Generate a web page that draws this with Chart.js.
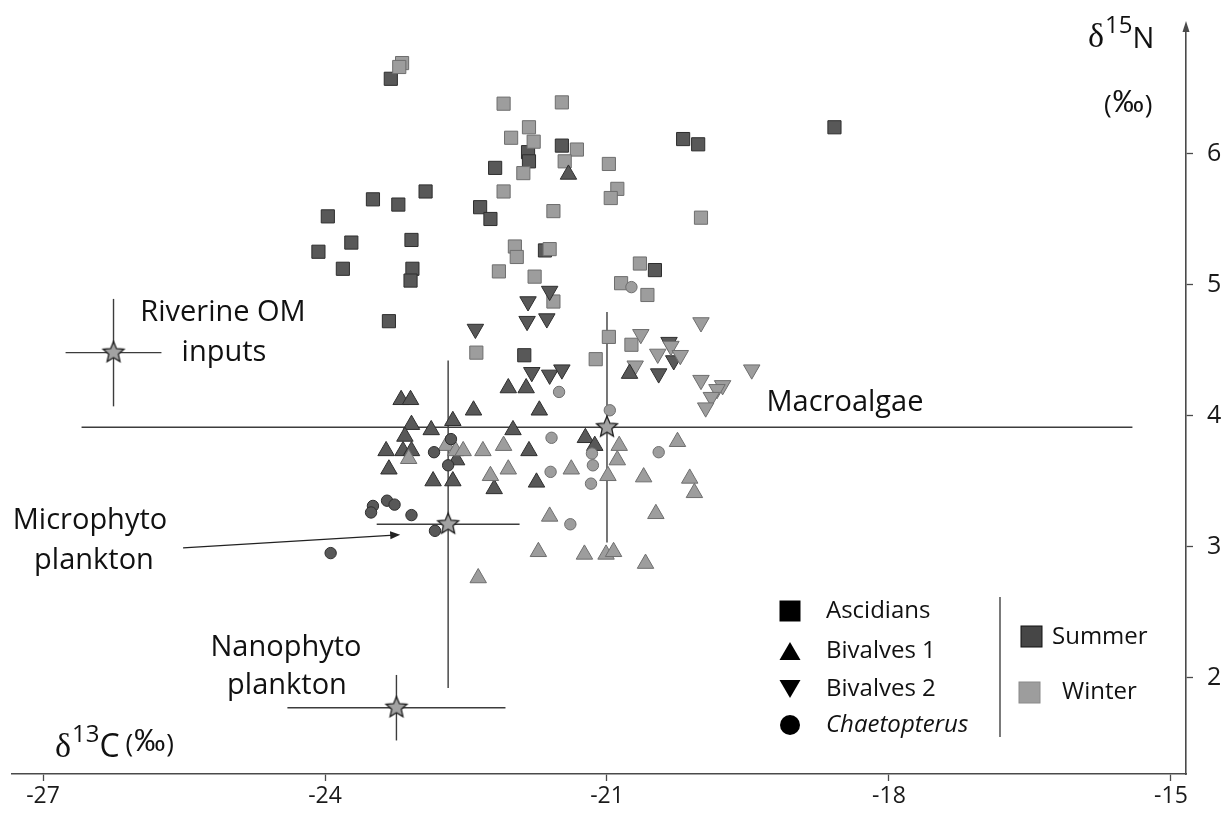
<!DOCTYPE html>
<html>
<head>
<meta charset="utf-8">
<title>Isotope biplot</title>
<script src="https://cdn.jsdelivr.net/npm/chart.js@4.4.1/dist/chart.umd.min.js"></script>
<style>
  html, body { margin: 0; padding: 0; background: #fff; }
  #wrap { width: 1231px; height: 814px; }
</style>
</head>
<body>
<div id="wrap"><canvas id="isoChart" width="1231" height="814"></canvas></div>
<script>
// d13C (x) / d15N (y) values, as [x, y] pairs
const ascidiansSummer = [
    [-23.30, 6.57], [-21.48, 6.06], [-21.84, 6.01], [-21.83, 5.94], [-22.19, 5.89],
    [-22.93, 5.71], [-23.49, 5.65], [-23.22, 5.61], [-23.97, 5.52], [-22.35, 5.59],
    [-22.24, 5.50], [-24.07, 5.25], [-23.72, 5.32], [-23.08, 5.34], [-23.81, 5.12],
    [-23.07, 5.12], [-23.09, 5.03], [-21.66, 5.26], [-23.32, 4.72], [-21.88, 4.46],
    [-20.49, 5.11], [-20.19, 6.11], [-20.03, 6.07], [-18.58, 6.20]
];
const ascidiansWinter = [
    [-23.18, 6.69], [-23.21, 6.66], [-22.10, 6.38], [-21.48, 6.39], [-21.83, 6.20],
    [-22.02, 6.12], [-21.78, 6.09], [-21.32, 6.03], [-21.45, 5.94], [-21.89, 5.85],
    [-20.98, 5.92], [-22.10, 5.71], [-20.89, 5.73], [-20.96, 5.66], [-21.57, 5.56],
    [-21.98, 5.29], [-21.96, 5.21], [-21.61, 5.27], [-22.15, 5.10], [-21.77, 5.06],
    [-21.57, 4.87], [-20.65, 5.16], [-20.85, 5.01], [-20.57, 4.92], [-20.00, 5.51],
    [-22.39, 4.48], [-20.98, 4.60], [-20.74, 4.54], [-21.12, 4.43]
];
const bivalves1Summer = [
    [-21.41, 5.84], [-22.05, 4.21], [-21.86, 4.21], [-20.76, 4.32], [-23.19, 4.12],
    [-23.09, 4.12], [-22.42, 4.04], [-21.72, 4.04], [-23.08, 3.93], [-22.87, 3.89],
    [-22.64, 3.96], [-22.00, 3.89], [-23.15, 3.84], [-21.23, 3.83], [-21.13, 3.77],
    [-23.35, 3.73], [-23.17, 3.73], [-23.08, 3.73], [-22.60, 3.66], [-21.83, 3.73],
    [-23.32, 3.59], [-22.85, 3.50], [-22.64, 3.50], [-22.20, 3.44], [-21.75, 3.49]
];
const bivalves1Winter = [
    [-23.11, 3.67], [-22.71, 3.77], [-22.61, 3.73], [-22.53, 3.73], [-22.32, 3.73],
    [-22.10, 3.77], [-22.05, 3.59], [-22.24, 3.54], [-21.38, 3.59], [-20.87, 3.77],
    [-20.89, 3.66], [-20.99, 3.54], [-20.25, 3.80], [-20.61, 3.53], [-20.12, 3.52],
    [-20.07, 3.41], [-21.61, 3.23], [-20.48, 3.25], [-21.73, 2.96], [-21.24, 2.94],
    [-21.01, 2.94], [-20.93, 2.96], [-20.59, 2.87], [-22.37, 2.76]
];
const bivalves2Summer = [
    [-21.61, 4.95], [-21.84, 4.87], [-21.85, 4.72], [-21.64, 4.74], [-22.40, 4.66],
    [-21.80, 4.33], [-21.61, 4.31], [-21.48, 4.35], [-20.34, 4.56], [-20.29, 4.42],
    [-20.45, 4.32]
];
const bivalves2Winter = [
    [-20.64, 4.62], [-20.32, 4.53], [-20.46, 4.47], [-20.22, 4.46], [-20.00, 4.71],
    [-20.70, 4.38], [-20.00, 4.27], [-19.77, 4.23], [-19.83, 4.20], [-19.89, 4.14],
    [-19.95, 4.06], [-19.46, 4.35]
];
const chaetopterusSummer = [
    [-22.66, 3.82], [-22.84, 3.72], [-22.69, 3.62], [-23.49, 3.31], [-23.51, 3.26],
    [-23.34, 3.35], [-23.26, 3.32], [-23.08, 3.24], [-22.83, 3.12], [-23.94, 2.95]
];
const chaetopterusWinter = [
    [-21.51, 4.18], [-20.97, 4.04], [-21.59, 3.83], [-21.16, 3.71], [-20.45, 3.72],
    [-21.60, 3.57], [-21.15, 3.62], [-21.17, 3.48], [-21.39, 3.17], [-20.74, 4.98]
];

// food sources: mean and spread on both axes
const sourceNames = ['Riverine OM', 'Macroalgae', 'Microphytoplankton', 'Nanophytoplankton'];
const sourceC = [-26.25, -21.00, -22.69, -23.24];
const sourceN = [4.48, 3.91, 3.17, 1.77];
const sourceCsd = [0.51, 5.59, 0.76, 1.16];
const sourceNsd = [0.41, 0.88, 1.25, 0.25];

const xTicks = [-27, -24, -21, -18, -15];
const yTicks = [2, 3, 4, 5, 6];

const SUMMER = { fill: '#585858', line: '#2e2e2e' };
const WINTER = { fill: '#9d9d9d', line: '#6e6e6e' };
const AXIS = '#4a4a4a';

Chart.defaults.font.family = '"Open Sans", sans-serif';
Chart.defaults.color = '#1a1a1a';

function makeStar(r) {
    const c = document.createElement('canvas');
    c.width = c.height = 2 * r + 4;
    const g = c.getContext('2d');
    g.translate(r + 2, r + 2);
    g.beginPath();
    for (let i = 0; i < 10; i++) {
        const rad = i % 2 ? r * 0.46 : r;
        const a = -Math.PI / 2 + i * Math.PI / 5;
        g.lineTo(Math.cos(a) * rad, Math.sin(a) * rad);
    }
    g.closePath();
    g.fillStyle = '#a2a2a2';
    g.fill();
    g.lineWidth = 1.3;
    g.strokeStyle = '#1e1e1e';
    g.stroke();
    return c;
}

function group(label, points, shape, season) {
    const s = season === 'summer' ? SUMMER : WINTER;
    const radius = { rect: 9.3, triangle: 9.5, down: 9.5, circle: 5.7 }[shape];
    return {
        label,
        data: points.map(([x, y]) => ({ x, y })),
        pointStyle: shape === 'down' ? 'triangle' : shape,
        rotation: shape === 'down' ? 180 : 0,
        pointRadius: radius,
        backgroundColor: s.fill,
        borderColor: s.line,
        borderWidth: 1
    };
}

function segment(a, b) {
    return {
        label: 'bar',
        data: [{ x: a[0], y: a[1] }, { x: b[0], y: b[1] }],
        showLine: true,
        borderColor: '#3c3c3c',
        borderWidth: 1.4,
        pointRadius: 0,
        order: 10
    };
}

const bars = [];
sourceNames.forEach((name, i) => {
    const x = sourceC[i], y = sourceN[i];
    bars.push(segment([x - sourceCsd[i], y], [x + sourceCsd[i], y]));
    bars.push(segment([x, y - sourceNsd[i]], [x, y + sourceNsd[i]]));
});

const datasets = [
    {
        label: 'Sources',
        data: sourceNames.map((n, i) => ({ x: sourceC[i], y: sourceN[i] })),
        pointStyle: makeStar(11),
        pointRadius: 11
    },
    group('Chaetopterus winter', chaetopterusWinter, 'circle', 'winter'),
    group('Chaetopterus summer', chaetopterusSummer, 'circle', 'summer'),
    group('Bivalves 1 winter', bivalves1Winter, 'triangle', 'winter'),
    group('Bivalves 1 summer', bivalves1Summer, 'triangle', 'summer'),
    group('Bivalves 2 winter', bivalves2Winter, 'down', 'winter'),
    group('Bivalves 2 summer', bivalves2Summer, 'down', 'summer'),
    group('Ascidians winter', ascidiansWinter, 'rect', 'winter'),
    group('Ascidians summer', ascidiansSummer, 'rect', 'summer'),
    ...bars
];

// free text on the plot, canvas pixels
const notes = [
    { text: 'Riverine OM', x: 223, y: 313 },
    { text: 'inputs', x: 224, y: 353 },
    { text: 'Macroalgae', x: 845, y: 403 },
    { text: 'Microphyto', x: 90, y: 521 },
    { text: 'plankton', x: 94, y: 561 },
    { text: 'Nanophyto', x: 286, y: 648 },
    { text: 'plankton', x: 287, y: 686 }
];
// arrow pointing at the microphytoplankton source, in data units
const arrowFrom = [-25.51, 2.99];
const arrowTo = [-23.20, 3.09];

const legendRows = [
    { text: 'Ascidians', shape: 'rect', y: 611 },
    { text: 'Bivalves 1', shape: 'up', y: 651 },
    { text: 'Bivalves 2', shape: 'down', y: 689 },
    { text: 'Chaetopterus', shape: 'circle', y: 725, italic: true }
];

function drawPieces(ctx, x, pieces) {
    pieces.forEach(p => {
        ctx.font = p.font;
        ctx.fillText(p.text, x, p.base);
        x += ctx.measureText(p.text).width + (p.gap || 0);
    });
}

// "(‰)" with a full-size per-mille sign
function permil(base) {
    return [
        { text: '(', font: '26px "Open Sans"', base, gap: 1 },
        { text: '‰', font: '31px "Liberation Sans"', base: base - 1, gap: 1 },
        { text: ')', font: '26px "Open Sans"', base }
    ];
}

const overlay = {
    id: 'overlay',
    afterDraw(chart) {
        const { ctx, chartArea, scales } = chart;
        ctx.save();
        ctx.fillStyle = '#111';
        ctx.textAlign = 'center';
        ctx.textBaseline = 'middle';
        ctx.font = '29px "Open Sans"';
        notes.forEach(n => ctx.fillText(n.text, n.x, n.y));

        // arrow
        const x0 = scales.x.getPixelForValue(arrowFrom[0]), y0 = scales.y.getPixelForValue(arrowFrom[1]);
        const x1 = scales.x.getPixelForValue(arrowTo[0]), y1 = scales.y.getPixelForValue(arrowTo[1]);
        const ang = Math.atan2(y1 - y0, x1 - x0);
        ctx.strokeStyle = '#222';
        ctx.lineWidth = 1.3;
        ctx.beginPath();
        ctx.moveTo(x0, y0);
        ctx.lineTo(x1 - 6 * Math.cos(ang), y1 - 6 * Math.sin(ang));
        ctx.stroke();
        ctx.beginPath();
        ctx.moveTo(x1, y1);
        ctx.lineTo(x1 - 10 * Math.cos(ang) + 4 * Math.sin(ang), y1 - 10 * Math.sin(ang) - 4 * Math.cos(ang));
        ctx.lineTo(x1 - 10 * Math.cos(ang) - 4 * Math.sin(ang), y1 - 10 * Math.sin(ang) + 4 * Math.cos(ang));
        ctx.closePath();
        ctx.fillStyle = '#222';
        ctx.fill();

        // arrowhead on top of the y axis
        const ax = chartArea.right;
        ctx.fillStyle = AXIS;
        ctx.beginPath();
        ctx.moveTo(ax, chartArea.top - 8);
        ctx.lineTo(ax - 3.5, chartArea.top + 3);
        ctx.lineTo(ax + 3.5, chartArea.top + 3);
        ctx.closePath();
        ctx.fill();

        // axis titles
        ctx.fillStyle = '#111';
        ctx.textAlign = 'left';
        ctx.textBaseline = 'alphabetic';
        drawPieces(ctx, 55, [
            { text: 'δ', font: '34px "Liberation Serif"', base: 757, gap: 1 },
            { text: '13', font: '24px "Open Sans"', base: 742 },
            { text: 'C', font: '32px "Open Sans"', base: 757, gap: 6 },
            ...permil(752)
        ]);
        drawPieces(ctx, 1088, [
            { text: 'δ', font: '34px "Liberation Serif"', base: 47, gap: 1 },
            { text: '15', font: '24px "Open Sans"', base: 33 },
            { text: 'N', font: '29px "Open Sans"', base: 48 }
        ]);
        drawPieces(ctx, 1104, permil(113));

        // legend: shapes
        ctx.textBaseline = 'middle';
        legendRows.forEach(r => {
            const cx = 790, cy = r.y;
            ctx.fillStyle = '#000';
            ctx.beginPath();
            if (r.shape === 'rect') ctx.rect(cx - 10.5, cy - 10.5, 21, 21);
            if (r.shape === 'up') { ctx.moveTo(cx, cy - 9); ctx.lineTo(cx + 10.5, cy + 9); ctx.lineTo(cx - 10.5, cy + 9); }
            if (r.shape === 'down') { ctx.moveTo(cx, cy + 9); ctx.lineTo(cx + 10.5, cy - 9); ctx.lineTo(cx - 10.5, cy - 9); }
            if (r.shape === 'circle') ctx.arc(cx, cy, 10, 0, Math.PI * 2);
            ctx.fill();
            ctx.fillStyle = '#111';
            ctx.font = (r.italic ? 'italic ' : '') + '24px "Open Sans"';
            ctx.fillText(r.text, 826, cy);
        });
        ctx.strokeStyle = '#333';
        ctx.lineWidth = 1.3;
        ctx.beginPath();
        ctx.moveTo(1000, 597);
        ctx.lineTo(1000, 737);
        ctx.stroke();

        // legend: seasons
        ctx.lineWidth = 1;
        ctx.fillStyle = '#464646';
        ctx.strokeStyle = '#111';
        ctx.fillRect(1021, 626, 21, 21);
        ctx.strokeRect(1021, 626, 21, 21);
        ctx.fillStyle = '#9d9d9d';
        ctx.strokeStyle = '#8a8a8a';
        ctx.fillRect(1019, 682, 21, 21);
        ctx.strokeRect(1019, 682, 21, 21);
        ctx.fillStyle = '#111';
        ctx.font = '24px "Open Sans"';
        ctx.fillText('Summer', 1052, 637);
        ctx.fillText('Winter', 1062, 692);
        ctx.restore();
    }
};

new Chart(document.getElementById('isoChart'), {
    type: 'scatter',
    data: { datasets },
    options: {
        responsive: false,
        animation: false,
        events: [],
        devicePixelRatio: 1,
        layout: { padding: { left: 12, top: 16, right: 0, bottom: 0 } },
        plugins: { legend: { display: false }, tooltip: { enabled: false } },
        scales: {
            x: {
                type: 'linear',
                position: 'bottom',
                min: -27.33,
                max: -14.84,
                afterBuildTicks: s => { s.ticks = xTicks.map(v => ({ value: v })); },
                afterFit: s => { s.height = 40; },
                border: { display: true, color: AXIS, width: 1.6 },
                grid: { drawOnChartArea: false, drawTicks: true, tickLength: 7, tickColor: AXIS, tickWidth: 1.3 },
                ticks: { font: { size: 23 }, padding: 2, color: '#1a1a1a' }
            },
            y: {
                type: 'linear',
                position: 'right',
                min: 1.264,
                max: 6.95,
                afterBuildTicks: s => { s.ticks = yTicks.map(v => ({ value: v })); },
                afterFit: s => { s.width = 45; },
                border: { display: true, color: AXIS, width: 1.6 },
                grid: { drawOnChartArea: false, drawTicks: true, tickLength: 7, tickColor: AXIS, tickWidth: 1.3 },
                ticks: { font: { size: 25 }, padding: 14, color: '#1a1a1a' }
            }
        }
    },
    plugins: [overlay]
});
</script>
</body>
</html>
